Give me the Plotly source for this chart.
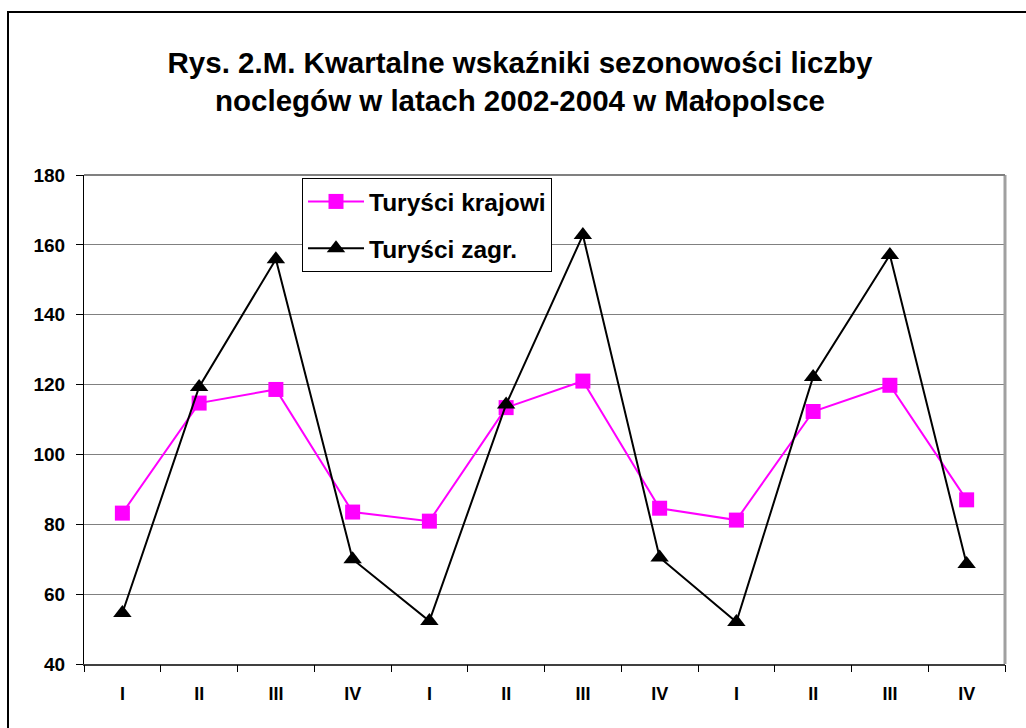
import plotly.graph_objects as go

quarters = ["I", "II", "III", "IV"] * 3
krajowi = [83.2, 114.7, 118.6, 83.5, 80.9, 113.4, 121.0, 84.6, 81.2, 112.3, 119.8, 87.0]
zagr = [54.6, 119.3, 155.9, 70.0, 52.3, 114.3, 162.8, 70.5, 52.0, 122.2, 157.1, 68.6]
y_ticks = [40, 60, 80, 100, 120, 140, 160, 180]
title = "Rys. 2.M. Kwartalne wskaźniki sezonowości liczby<br>noclegów w latach 2002-2004 w Małopolsce"

xs = list(range(len(quarters)))
font = "Liberation Sans, Arial, sans-serif"

fig = go.Figure()
fig.add_trace(go.Scatter(
    x=xs, y=krajowi, name="Turyści krajowi", mode="lines+markers", legendgroup="a",
    line=dict(color="#FF00FF", width=2),
    marker=dict(symbol="square", size=15, color="#FF00FF"),
))
fig.add_trace(go.Scatter(
    x=xs, y=zagr, name="Turyści zagr.", mode="lines+markers", legendgroup="b",
    line=dict(color="#000000", width=2),
    marker=dict(symbol="triangle-up", size=16, color="#000000"),
))
# invisible trace to host boundary ticks on overlaying axis
fig.add_trace(go.Scatter(x=[-0.5, 11.5], y=[40, 40], xaxis="x2", mode="lines",
                         line=dict(width=0), showlegend=False, hoverinfo="skip"))

fig.update_layout(
    width=1026, height=728,
    margin=dict(l=84, r=21, t=175, b=64),
    paper_bgcolor="white", plot_bgcolor="white",
    font=dict(family=font, color="black"),
    title=dict(text=title, x=520 / 1026, xanchor="center", y=1 - 73 / 728, yanchor="middle",
               font=dict(size=29.5, family=font, weight="bold")),
    xaxis=dict(range=[-0.5, 11.5], tickvals=xs, ticktext=quarters,
               ticks="", showgrid=False, zeroline=False,
               showline=True, linecolor="#404040", linewidth=2,
               tickfont=dict(size=18, family=font, weight="bold"), ticklabelstandoff=12),
    xaxis2=dict(range=[-0.5, 11.5], overlaying="x", side="bottom",
                tickvals=[i - 0.5 for i in range(13)], showticklabels=False,
                ticks="outside", ticklen=7, tickcolor="#000000", tickwidth=1,
                showgrid=False, zeroline=False, showline=False),
    yaxis=dict(range=[40, 180], tickvals=y_ticks, ticks="outside", ticklen=7,
               tickcolor="#000000", showgrid=True, gridcolor="#808080", gridwidth=1,
               zeroline=False, showline=True, linecolor="#000000", linewidth=1,
               tickfont=dict(size=19, family=font, weight="bold"), ticklabelstandoff=7),
    legend=dict(x=(302 - 84) / 921, y=(664 - 178) / 489, xanchor="left", yanchor="top",
                bgcolor="white", bordercolor="#000000", borderwidth=1,
                font=dict(size=24.5, family=font, weight="bold"), itemwidth=56,
                tracegroupgap=12),
    showlegend=True,
    shapes=[
        dict(type="rect", xref="paper", yref="paper",
             x0=(8 - 84) / 921, x1=(1035 - 84) / 921,
             y0=(664 - 740) / 489, y1=(664 - 12) / 489,
             line=dict(color="black", width=2), fillcolor="rgba(0,0,0,0)", layer="below"),
        dict(type="line", xref="paper", yref="paper", x0=1, x1=1, y0=0, y1=1,
             line=dict(color="#A0A0A0", width=3)),
        dict(type="line", xref="paper", yref="paper", x0=0, x1=1, y0=1, y1=1,
             line=dict(color="#808080", width=2)),
    ],
)

fig.write_html("out.html", config={"displayModeBar": False},
               post_script="document.body.style.margin='0';document.body.style.overflow='hidden';")
